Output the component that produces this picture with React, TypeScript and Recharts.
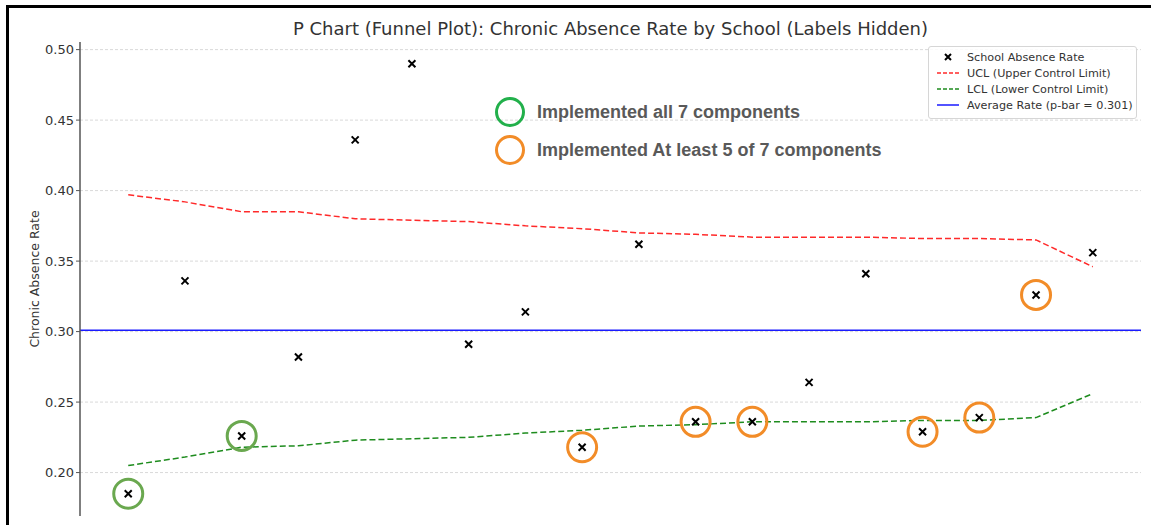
import {
  ComposedChart,
  Line,
  Scatter,
  XAxis,
  YAxis,
  CartesianGrid,
  ReferenceLine,
} from "recharts"

// one entry per school, left to right (names hidden in the original)
const absenceRates = [
  0.185, 0.336, 0.226, 0.282, 0.436, 0.490, 0.291, 0.314, 0.218,
  0.362, 0.236, 0.236, 0.264, 0.341, 0.229, 0.239, 0.326, 0.356,
]
const uclValues = [
  0.397, 0.392, 0.385, 0.385, 0.380, 0.379, 0.378, 0.375, 0.373,
  0.370, 0.369, 0.367, 0.367, 0.367, 0.366, 0.366, 0.365, 0.346,
]
const lclValues = [
  0.205, 0.211, 0.218, 0.219, 0.223, 0.224, 0.225, 0.228, 0.230,
  0.233, 0.234, 0.236, 0.236, 0.236, 0.237, 0.237, 0.239, 0.256,
]
// "all" = implemented all 7 components, "five" = at least 5 of 7
const implemented = [
  "all", "", "all", "", "", "", "", "", "five",
  "", "five", "five", "", "", "five", "five", "five", "",
]
const pBar = 0.301
const yTicks = [0.2, 0.25, 0.3, 0.35, 0.4, 0.45, 0.5]

const data = absenceRates.map((rate, i) => ({
  idx: i,
  rate,
  ucl: uclValues[i],
  lcl: lclValues[i],
  status: implemented[i],
}))

const GREEN_RING = "#6aa84f"
const ORANGE_RING = "#f28c28"

function CrossMarker(props: any) {
  const { cx, cy, payload } = props
  if (cx == null || cy == null) return null
  const s = 3.5
  let ring = null
  if (payload?.status === "all") ring = GREEN_RING
  if (payload?.status === "five") ring = ORANGE_RING
  return (
    <g>
      {ring && (
        <circle cx={cx} cy={cy} r={14.5} fill="none" stroke={ring} strokeWidth={3} />
      )}
      <path
        d={`M${cx - s},${cy - s}L${cx + s},${cy + s}M${cx + s},${cy - s}L${cx - s},${cy + s}`}
        stroke="#000"
        strokeWidth={2}
      />
    </g>
  )
}

function LegendBox() {
  const row = { display: "flex", alignItems: "center", height: 16 } as const
  const text = { marginLeft: 8 }
  return (
    <div
      style={{
        position: "absolute",
        left: 928,
        top: 46,
        width: 209,
        height: 73,
        border: "1px solid #d6d6d6",
        borderRadius: 3,
        background: "rgba(255,255,255,0.85)",
        fontSize: 11.2,
        color: "#333",
        padding: "2px 0 0 8px",
        boxSizing: "border-box",
      }}
    >
      <div style={row}>
        <svg width={22} height={10}>
          <path d="M8,2L14,8M14,2L8,8" stroke="#000" strokeWidth={2} />
        </svg>
        <span style={text}>School Absence Rate</span>
      </div>
      <div style={row}>
        <svg width={22} height={10}>
          <line x1={0} y1={5} x2={22} y2={5} stroke="#ff2a2a" strokeWidth={1.5} strokeDasharray="4 2" />
        </svg>
        <span style={text}>UCL (Upper Control Limit)</span>
      </div>
      <div style={row}>
        <svg width={22} height={10}>
          <line x1={0} y1={5} x2={22} y2={5} stroke="#1e8c1e" strokeWidth={1.5} strokeDasharray="4 2" />
        </svg>
        <span style={text}>LCL (Lower Control Limit)</span>
      </div>
      <div style={row}>
        <svg width={22} height={10}>
          <line x1={0} y1={5} x2={22} y2={5} stroke="#1a1aff" strokeWidth={1.5} />
        </svg>
        <span style={text}>Average Rate (p-bar = {pBar})</span>
      </div>
    </div>
  )
}

function Annotation({ top, color, label }: { top: number; color: string; label: string }) {
  return (
    <div style={{ position: "absolute", left: 494, top: top - 16, display: "flex", alignItems: "center" }}>
      <svg width={32} height={32}>
        <circle cx={16} cy={16} r={13.5} fill="none" stroke={color} strokeWidth={3} />
      </svg>
      <span
        style={{
          marginLeft: 11,
          fontFamily: "'Liberation Sans', Arial, sans-serif",
          fontWeight: 700,
          fontSize: 18,
          color: "#595959",
        }}
      >
        {label}
      </span>
    </div>
  )
}

export default function App() {
  return (
    <div
      style={{
        position: "absolute",
        left: 0,
        top: 0,
        width: 1151,
        height: 525,
        background: "#fff",
        fontFamily: "'DejaVu Sans', sans-serif",
        overflow: "hidden",
      }}
    >
      <ComposedChart
        width={1151}
        height={525}
        data={data}
        margin={{ top: 42, right: 10, bottom: 9, left: 0 }}
      >
        <CartesianGrid
          vertical={false}
          stroke="#d9d9d9"
          strokeDasharray="3 2"
          syncWithTicks
        />
        <XAxis
          dataKey="idx"
          type="number"
          domain={[-0.85, 17.85]}
          tick={false}
          tickLine={false}
          height={0}
          axisLine={{ stroke: "#555", strokeWidth: 1.5 }}
        />
        <YAxis
          type="number"
          domain={[0.1692, 0.5054]}
          ticks={yTicks}
          tickFormatter={(v: number) => v.toFixed(2)}
          width={80}
          tick={{ fill: "#333", fontSize: 13 }}
          tickSize={4}
          tickLine={{ stroke: "#555" }}
          axisLine={{ stroke: "#555", strokeWidth: 1.5 }}
        />
        <ReferenceLine y={pBar} stroke="#1a1aff" strokeWidth={1.5} />
        <Line
          dataKey="ucl"
          type="linear"
          stroke="#ff2a2a"
          strokeWidth={1.5}
          strokeDasharray="6 3"
          dot={false}
          isAnimationActive={false}
        />
        <Line
          dataKey="lcl"
          type="linear"
          stroke="#1e8c1e"
          strokeWidth={1.5}
          strokeDasharray="6 3"
          dot={false}
          isAnimationActive={false}
        />
        <Scatter dataKey="rate" shape={CrossMarker} isAnimationActive={false} />
      </ComposedChart>

      <div
        style={{
          position: "absolute",
          left: 80,
          width: 1061,
          top: 18,
          textAlign: "center",
          fontSize: 18,
          color: "#333",
          lineHeight: "22px",
        }}
      >
        P Chart (Funnel Plot): Chronic Absence Rate by School (Labels Hidden)
      </div>

      <div
        style={{
          position: "absolute",
          left: 34,
          top: 279,
          transform: "translate(-50%, -50%) rotate(-90deg)",
          fontSize: 12.5,
          color: "#333",
          whiteSpace: "nowrap",
        }}
      >
        Chronic Absence Rate
      </div>

      <Annotation top={112} color="#22b04b" label="Implemented all 7 components" />
      <Annotation top={150} color={ORANGE_RING} label="Implemented At least 5 of 7 components" />

      <LegendBox />

      {/* black frame from the original screenshot */}
      <div style={{ position: "absolute", left: 6, top: 5, width: 1145, height: 3, background: "#000" }} />
      <div style={{ position: "absolute", left: 6, top: 5, width: 3, height: 520, background: "#000" }} />
    </div>
  )
}
